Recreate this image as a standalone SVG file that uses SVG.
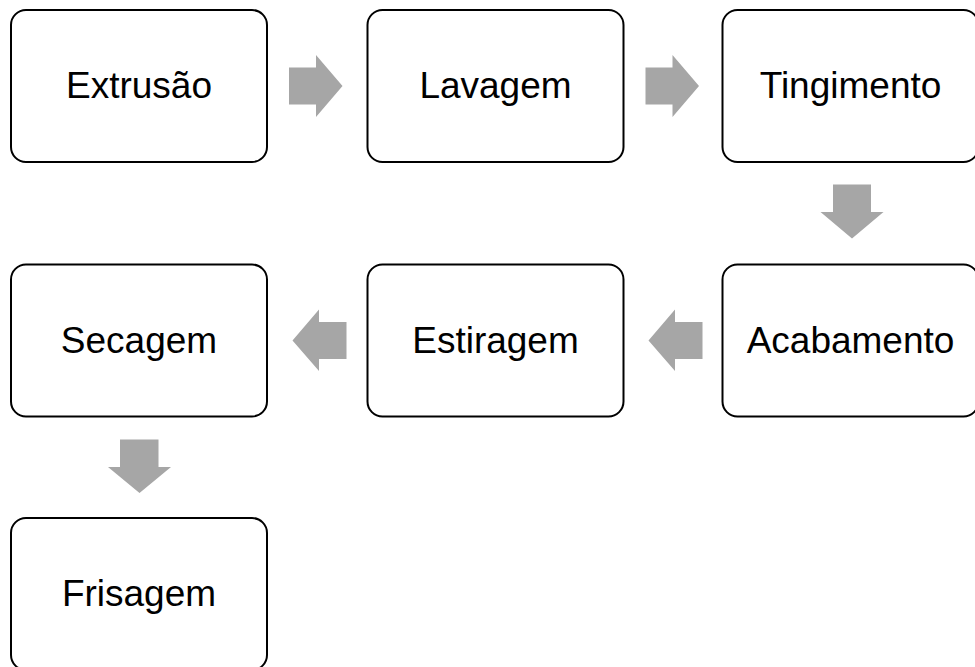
<svg xmlns="http://www.w3.org/2000/svg" width="975" height="667" viewBox="0 0 975 667">
<style>
.box{fill:#fff;stroke:#000;stroke-width:2}
.lbl{font-family:"Liberation Sans",Arial,sans-serif;font-size:37px;fill:#000;text-anchor:middle}
.arr{fill:#A6A6A6}
</style>
<rect width="975" height="667" fill="#fff"/>
<g id="connectors">
<polygon class="arr" points="289,67.5 316,67.5 316,55 342.5,86 316,117 316,104.5 289,104.5"/>
<polygon class="arr" points="645.5,67.5 672.5,67.5 672.5,55 699,86 672.5,117 672.5,104.5 645.5,104.5"/>
<polygon class="arr" points="833,184.5 871,184.5 871,212 883.5,212 852,238.5 820.5,212 833,212"/>
<polygon class="arr" points="702.5,322 675,322 675,309.5 648.5,340.5 675,371 675,359 702.5,359"/>
<polygon class="arr" points="346.5,322 319,322 319,309.5 292.5,340.5 319,371 319,359 346.5,359"/>
<polygon class="arr" points="120,439.5 158.5,439.5 158.5,467 171,467 139.5,493 108,467 120,467"/>
</g>
<g id="n1"><rect class="box" x="11" y="10" width="256" height="152" rx="15"/><text class="lbl" x="139" y="98">Extrusão</text></g>
<g id="n2"><rect class="box" x="367.5" y="10" width="256" height="152" rx="15"/><text class="lbl" x="495.5" y="98">Lavagem</text></g>
<g id="n3"><rect class="box" x="722.5" y="10" width="256" height="152" rx="15"/><text class="lbl" x="850.5" y="98">Tingimento</text></g>
<g id="n4"><rect class="box" x="722.5" y="264.5" width="256" height="152" rx="15"/><text class="lbl" x="850.5" y="352.5">Acabamento</text></g>
<g id="n5"><rect class="box" x="367.5" y="264.5" width="256" height="152" rx="15"/><text class="lbl" x="495.5" y="352.5">Estiragem</text></g>
<g id="n6"><rect class="box" x="11" y="264.5" width="256" height="152" rx="15"/><text class="lbl" x="139" y="352.5">Secagem</text></g>
<g id="n7"><rect class="box" x="11" y="518" width="256" height="152" rx="15"/><text class="lbl" x="139" y="606">Frisagem</text></g>
</svg>
